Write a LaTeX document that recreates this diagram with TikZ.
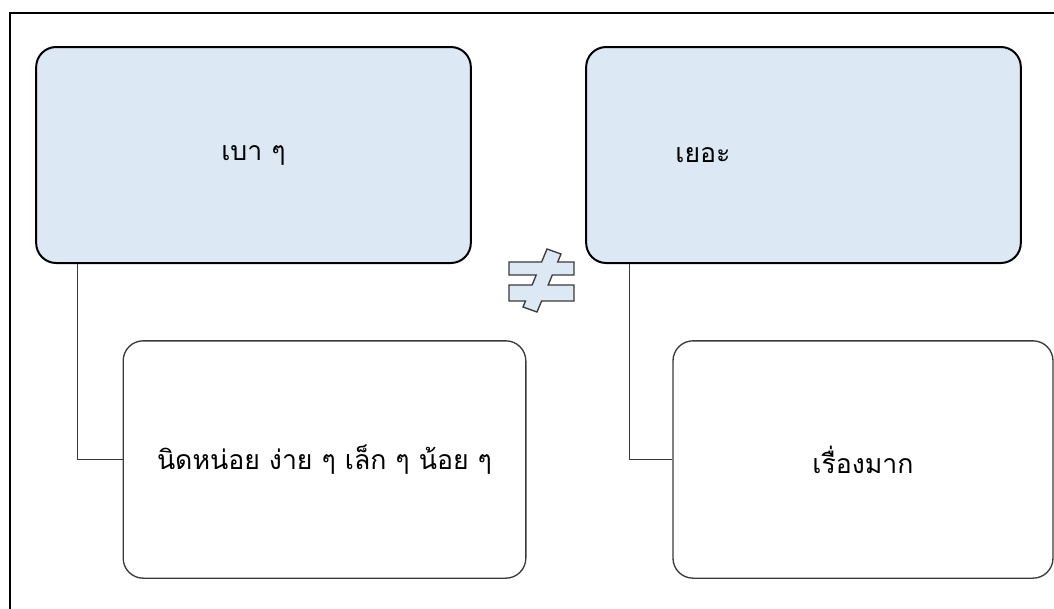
\documentclass[tikz,border=0pt]{standalone}
\usepackage{fontspec}
\newfontfamily\thaifont[Script=Thai]{Loma}
\usetikzlibrary{positioning}
\definecolor{boxfill}{HTML}{DDE8F5}
\definecolor{edge}{HTML}{3A3A3A}

\begin{document}
\begin{tikzpicture}[
    x=0.75pt, y=-0.75pt,
    topbox/.style={draw=black, line width=1.5pt, fill=boxfill, rounded corners=15pt, minimum width=326pt, minimum height=162pt, font=\thaifont\fontsize{20}{24}\selectfont},
    subbox/.style={draw=edge, line width=1pt, fill=white, rounded corners=15pt, minimum height=178pt, font=\thaifont\fontsize{20}{24}\selectfont},
    link/.style={draw=edge, line width=0.9pt},
    ]
    \useasboundingbox (0,0) rectangle (1054,608);
    \draw[line width=1.5pt] (1070,13) -- (10,13) -- (10,620);

    \node at(253.5,155) [topbox](light){เบา ๆ};
    \node at(324.5,459.5) [subbox, minimum width=302pt](little){นิดหน่อย ง่าย ๆ เล็ก ๆ น้อย ๆ};
    \draw[link] ([xshift=32pt]light.south west) |- (little.west);

    \node at(803.5,155) [topbox](heavy){};
    \node at(703,155) [font=\thaifont\fontsize{20}{24}\selectfont](heavytext){เยอะ};
    \node at(863,459.5) [subbox, minimum width=285pt](much){เรื่องมาก};
    \draw[link] ([xshift=33pt]heavy.south west) |- (much.west);

    % not-equal sign
    \draw[fill=boxfill, draw=edge, line width=1pt]
      (509,262) -- (541.6,262) -- (547,249) -- (561,254) -- (557.7,262) -- (574,262)
      -- (574,275) -- (552.3,275) -- (548.2,285) -- (574,285) -- (574,301)
      -- (541.6,301) -- (537,312) -- (523,307) -- (525.5,301) -- (509,301)
      -- (509,285) -- (532.1,285) -- (536.2,275) -- (509,275) -- cycle;
\end{tikzpicture}
\end{document}
